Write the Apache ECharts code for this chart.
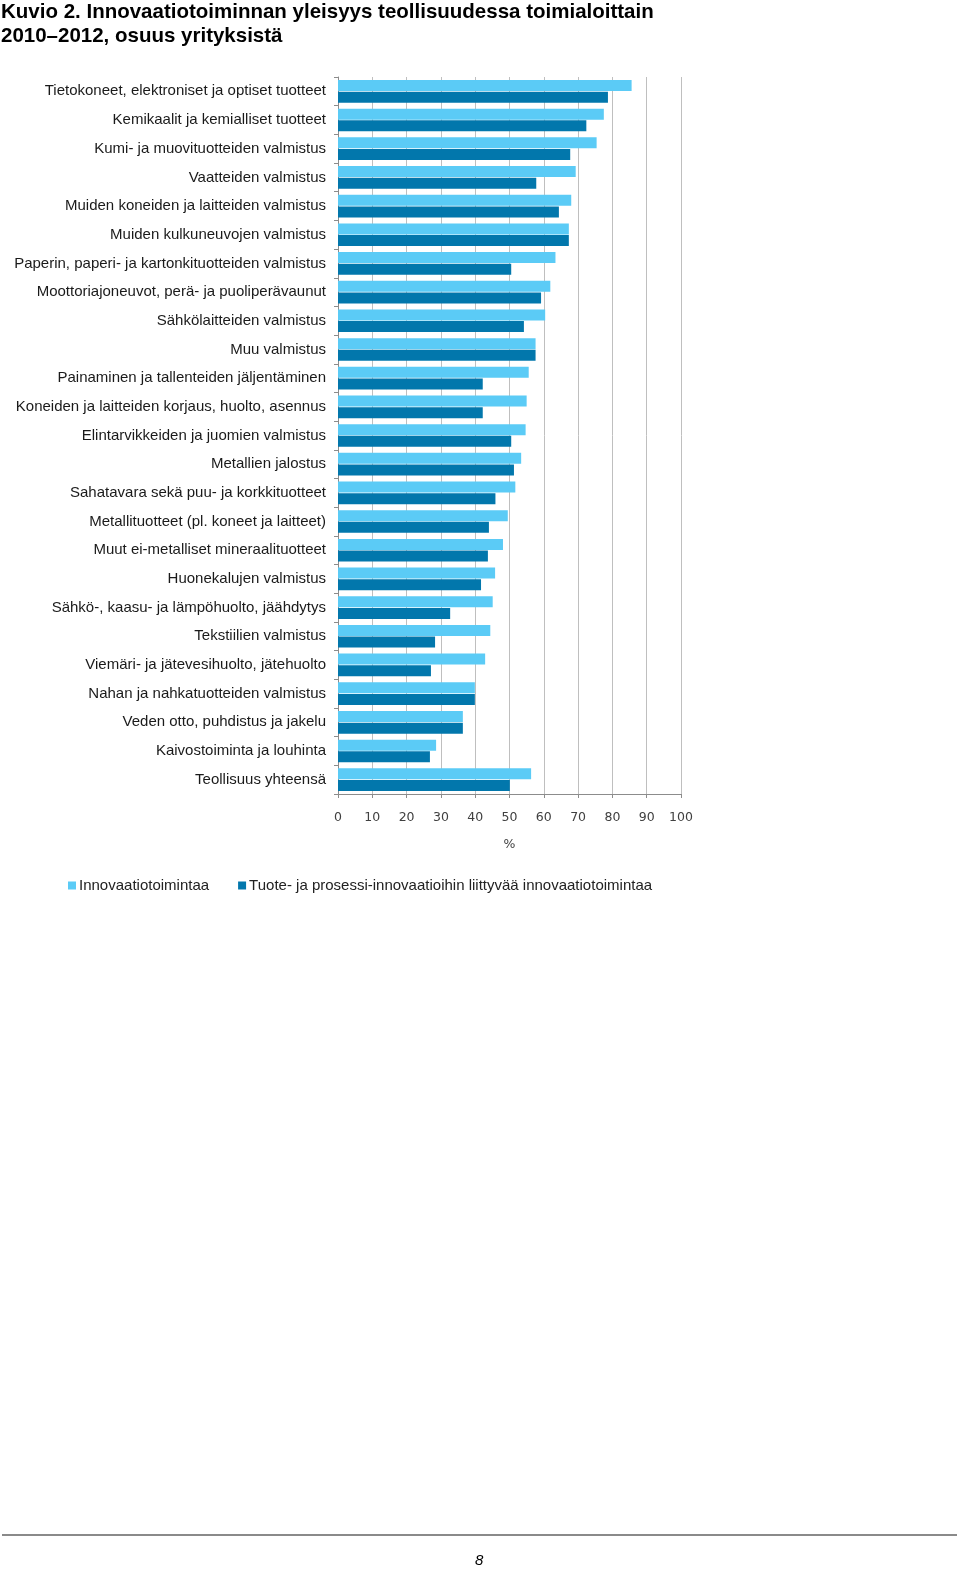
<!DOCTYPE html>
<html>
<head>
<meta charset="utf-8">
<script src="https://cdn.jsdelivr.net/npm/echarts@6/dist/echarts.min.js"></script>
<style>
html,body{margin:0;padding:0;background:#fff;}
#chart{width:960px;height:1572px;}
</style>
</head>
<body>
<div id="chart"></div>
<script>
const categories = [
  "Tietokoneet, elektroniset ja optiset tuotteet",
  "Kemikaalit ja kemialliset tuotteet",
  "Kumi- ja muovituotteiden valmistus",
  "Vaatteiden valmistus",
  "Muiden koneiden ja laitteiden valmistus",
  "Muiden kulkuneuvojen valmistus",
  "Paperin, paperi- ja kartonkituotteiden valmistus",
  "Moottoriajoneuvot, perä- ja puoliperävaunut",
  "Sähkölaitteiden valmistus",
  "Muu valmistus",
  "Painaminen ja tallenteiden jäljentäminen",
  "Koneiden ja laitteiden korjaus, huolto, asennus",
  "Elintarvikkeiden ja juomien valmistus",
  "Metallien jalostus",
  "Sahatavara sekä puu- ja korkkituotteet",
  "Metallituotteet (pl. koneet ja laitteet)",
  "Muut ei-metalliset mineraalituotteet",
  "Huonekalujen valmistus",
  "Sähkö-, kaasu- ja lämpöhuolto, jäähdytys",
  "Tekstiilien valmistus",
  "Viemäri- ja jätevesihuolto, jätehuolto",
  "Nahan ja nahkatuotteiden valmistus",
  "Veden otto, puhdistus ja jakelu",
  "Kaivostoiminta ja louhinta",
  "Teollisuus yhteensä"
];
const innovaatiotoimintaa = [85.6, 77.5, 75.4, 69.3, 68.0, 67.3, 63.4, 61.9, 60.4, 57.6, 55.6, 55.0, 54.7, 53.4, 51.7, 49.5, 48.1, 45.8, 45.1, 44.4, 42.9, 39.9, 36.4, 28.6, 56.3];
const tuoteJaProsessi = [78.7, 72.4, 67.7, 57.8, 64.4, 67.3, 50.5, 59.2, 54.2, 57.6, 42.2, 42.2, 50.5, 51.3, 45.9, 44.0, 43.7, 41.7, 32.7, 28.3, 27.1, 39.9, 36.4, 26.8, 50.1];
const seriesNames = ["Innovaatiotoimintaa", "Tuote- ja prosessi-innovaatioihin liittyvää innovaatiotoimintaa"];
const xTicks = [0, 10, 20, 30, 40, 50, 60, 70, 80, 90, 100];

const chart = echarts.init(document.getElementById('chart'), null, {renderer: 'canvas'});
chart.setOption({
  backgroundColor: '#ffffff',
  animation: false,
  title: {
    text: 'Kuvio 2. Innovaatiotoiminnan yleisyys teollisuudessa toimialoittain\n2010–2012, osuus yrityksistä',
    left: 1, top: 0, padding: 0,
    textStyle: {fontFamily: '"Liberation Sans", Arial, sans-serif', fontWeight: 'bold', fontSize: 20.5, lineHeight: 24, color: '#000'}
  },
  legend: {
    data: seriesNames,
    left: 63, top: 873,
    icon: 'rect', itemWidth: 8, itemHeight: 8, itemGap: 29, itemStyle: {borderWidth: 0},
    textStyle: {fontFamily: '"Liberation Sans", Arial, sans-serif', fontSize: 15, color: '#222', padding: [0,0,0,-2]}
  },
  grid: {left: 338, right: 279, top: 77, bottom: 778, containLabel: false},
  xAxis: {
    type: 'value', min: 0, max: 100, interval: 10,
    name: '%', nameLocation: 'middle', nameGap: 44,
    nameTextStyle: {fontFamily: '"DejaVu Sans", Verdana, sans-serif', fontSize: 12.5, color: '#404040'},
    axisLine: {show: true, lineStyle: {color: '#8c8c8c', width: 1}},
    axisTick: {show: true, length: 4, lineStyle: {color: '#8c8c8c'}},
    splitLine: {show: true, lineStyle: {color: '#bfbfbf', width: 1}},
    axisLabel: {margin: 17, fontFamily: '"DejaVu Sans", Verdana, sans-serif', fontSize: 12.5, color: '#404040',
      formatter: v => xTicks.indexOf(v) >= 0 ? String(v) : ''}
  },
  yAxis: {
    type: 'category', data: categories, inverse: true,
    axisLine: {show: true, lineStyle: {color: '#8c8c8c', width: 1}},
    axisTick: {show: true, length: 4, lineStyle: {color: '#8c8c8c'}},
    axisLabel: {margin: 12, fontFamily: '"Liberation Sans", Arial, sans-serif', fontSize: 15, color: '#1a1a1a'}
  },
  series: [
    {name: seriesNames[0], type: 'bar', data: innovaatiotoimintaa, barWidth: 11, barGap: '6%', itemStyle: {color: '#5BCBF6'}},
    {name: seriesNames[1], type: 'bar', data: tuoteJaProsessi, barWidth: 11, barGap: '6%', itemStyle: {color: '#0277AC'}}
  ],
  graphic: [
    {type: 'line', shape: {x1: 2, y1: 1535, x2: 957, y2: 1535}, style: {stroke: '#8a8a8a', lineWidth: 2}},
    {type: 'text', left: 475, top: 1553, style: {text: '8', fontFamily: '"Liberation Sans", Arial, sans-serif', fontStyle: 'italic', fontSize: 15, fill: '#000'}}
  ]
});
</script>
</body>
</html>
